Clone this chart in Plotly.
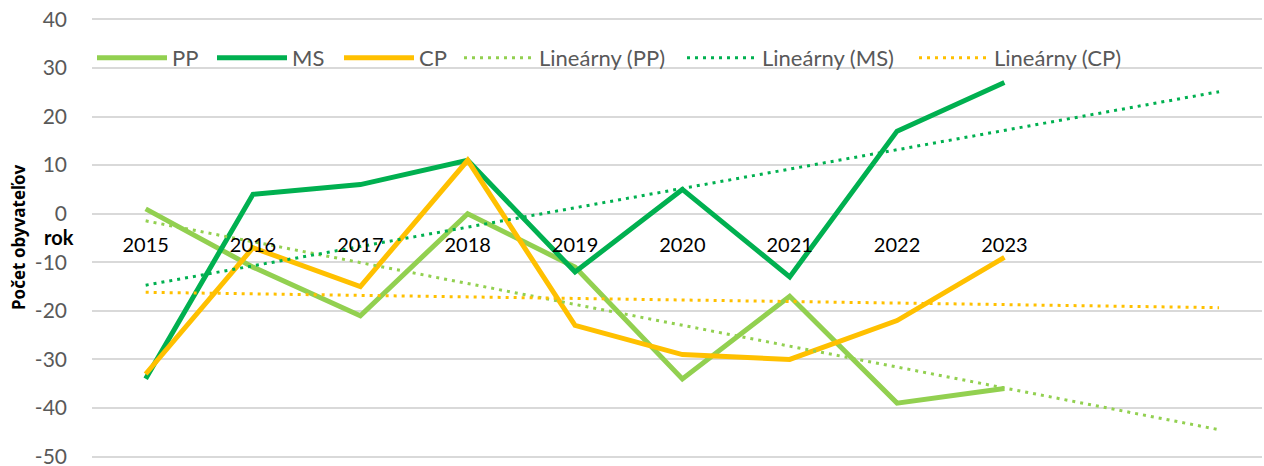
import numpy as np
import plotly.graph_objects as go

years = [2015, 2016, 2017, 2018, 2019, 2020, 2021, 2022, 2023]
pp = [1, -11, -21, 0, -11, -34, -17, -39, -36]
ms = [-34, 4, 6, 11, -12, 5, -13, 17, 27]
cp = [-33, -7, -15, 11, -23, -29, -30, -22, -9]
tick_labels = ["2015", "2016", "2017", "2018", "2019", "2020", "2021", "2022", "2023"]
y_ticks = [40, 30, 20, 10, 0, -10, -20, -30, -40, -50]
y_tick_labels = ["40", "30", "20", "10", "0", "-10", "-20", "-30", "-40", "-50"]
forecast_periods = 2

colors = {"PP": "#92D050", "MS": "#00B050", "CP": "#FFC000"}
FONT = "Lato"

W, H = 1264, 466
ML, MR, MT, MB = 92, 2, 17, 7
plot_w = W - ML - MR
plot_h = H - MT - MB


def px_to_paper(px, py):
    return (px - ML) / plot_w, 1 - (py - MT) / plot_h


fig = go.Figure()
series = [("PP", pp), ("MS", ms), ("CP", cp)]
legend_ids = ["legend", "legend2", "legend3", "legend4", "legend5", "legend6"]
legend_starts = [100, 220, 347, 467, 690, 922]

for i, (name, vals) in enumerate(series):
    fig.add_trace(go.Scatter(x=years, y=vals, mode="lines", name=name,
                             legend=legend_ids[i],
                             line=dict(color=colors[name], width=5)))

trend_x = np.arange(years[0], years[-1] + forecast_periods + 1)
for i, (name, vals) in enumerate(series):
    k, q = np.polyfit(years, vals, 1)
    fig.add_trace(go.Scatter(x=trend_x, y=k * trend_x + q, mode="lines",
                             name=f"Lineárny ({name})",
                             legend=legend_ids[3 + i],
                             line=dict(color=colors[name], width=3, dash="3px,5px")))

legend_layout = {}
for lid, start in zip(legend_ids, legend_starts):
    lx, ly = px_to_paper(start - 8, 58)
    legend_layout[lid] = dict(orientation="h", x=lx, xanchor="left", y=ly,
                              yanchor="middle", bgcolor="rgba(0,0,0,0)",
                              itemwidth=70,
                              font=dict(family=FONT, size=22, color="#595959"))

ax, ay = px_to_paper(18, 238)
bx, by = px_to_paper(59, 237)

fig.update_layout(
    width=W, height=H,
    margin=dict(l=ML, r=MR, t=MT, b=MB, autoexpand=False),
    paper_bgcolor="white", plot_bgcolor="white",
    font=dict(family=FONT, size=20, color="#595959"),
    showlegend=True,
    xaxis=dict(range=[2014.5, 2025.4], tickmode="array", tickvals=years,
               ticktext=tick_labels, showgrid=False, zeroline=False,
               anchor="free", position=50.5 / 91, showline=False,
               ticks="", ticklabelstandoff=17, automargin=False,
               ticklabeloverflow="allow",
               tickfont=dict(family=FONT, size=20, color="#000000")),
    yaxis=dict(range=[-50.5, 40.5], tickmode="array", tickvals=y_ticks,
               ticktext=y_tick_labels, showgrid=True,
               gridcolor="#D9D9D9", gridwidth=1.5, zeroline=True,
               zerolinecolor="#D9D9D9", zerolinewidth=1.5, showline=False,
               ticks="", ticklabelstandoff=24, automargin=False,
               ticklabeloverflow="allow",
               tickfont=dict(family=FONT, size=21, color="#595959")),
    annotations=[
        dict(text="<b>Počet obyvateľov</b>", textangle=-90, x=ax, y=ay,
             xref="paper", yref="paper", xanchor="center", yanchor="middle",
             showarrow=False, font=dict(family="Noto Sans", size=17, color="#000000")),
        dict(text="<b>rok</b>", x=bx, y=by, xref="paper", yref="paper",
             xanchor="center", yanchor="middle", showarrow=False,
             font=dict(family=FONT, size=20, color="#000000")),
    ],
    **legend_layout,
)

fig.write_html("out.html", config={"displayModeBar": False},
               post_script="document.body.style.margin='0';")
